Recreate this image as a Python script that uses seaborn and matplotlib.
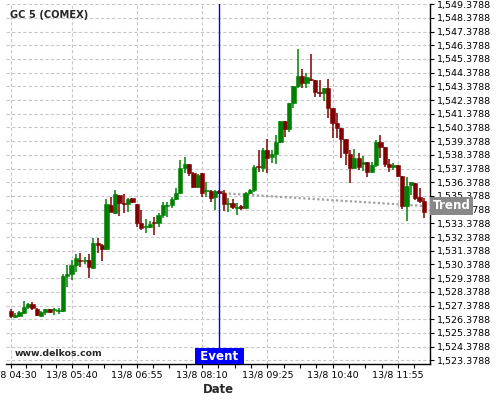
"""
GC 5 (COMEX) five-minute candles on 13/8 with the event marker and trend line.
"""

import numpy as np
import pandas as pd
import matplotlib

matplotlib.use("Agg")
import matplotlib.pyplot as plt
import matplotlib.transforms as mtransforms
from matplotlib.ticker import FixedLocator, FuncFormatter
import seaborn as sns

# 5-minute bars, 13/8 04:30 -> 12:25 (index 0..95)
opens = [1526.98, 1526.54, 1526.61, 1526.83, 1527.25, 1527.49, 1527.13, 1526.61, 1526.91, 1527.13,
         1527.03, 1527.00, 1527.00, 1529.53, 1529.68, 1530.34, 1530.70, 1530.65, 1530.70, 1530.14,
         1531.97, 1531.80, 1531.51, 1534.72, 1534.15, 1535.45, 1534.84, 1534.79, 1535.21, 1534.79,
         1533.43, 1533.09, 1533.09, 1533.43, 1533.38, 1533.99, 1534.64, 1534.72, 1535.13, 1535.57,
         1537.44, 1537.71, 1537.07, 1536.05, 1537.07, 1535.74, 1535.74, 1535.32, 1535.74, 1535.61,
         1534.77, 1534.84, 1534.52, 1534.64, 1534.48, 1535.57, 1535.81, 1537.51, 1537.40, 1538.73,
         1538.20, 1538.44, 1539.34, 1540.87, 1540.26, 1542.18, 1543.40, 1544.13, 1543.64, 1543.89,
         1543.84, 1542.99, 1542.87, 1543.28, 1541.83, 1540.68, 1540.37, 1539.51, 1538.44, 1537.44,
         1538.12, 1537.69, 1537.83, 1537.15, 1537.64, 1539.34, 1538.97, 1537.71, 1537.47, 1537.64,
         1536.83, 1534.66, 1536.18, 1536.34, 1535.28, 1535.01]
highs = [1527.10, 1526.83, 1526.98, 1527.71, 1527.59, 1527.64, 1527.20, 1526.98, 1527.13, 1527.13,
         1527.18, 1527.18, 1529.68, 1530.34, 1530.70, 1531.14, 1531.21, 1530.94, 1531.14, 1532.33,
         1532.33, 1531.87, 1535.15, 1535.30, 1535.81, 1535.45, 1535.52, 1535.23, 1535.23, 1534.79,
         1534.35, 1533.67, 1533.55, 1533.86, 1534.13, 1534.96, 1534.96, 1535.32, 1535.93, 1538.00,
         1538.24, 1537.71, 1537.13, 1536.98, 1537.07, 1536.37, 1535.81, 1535.81, 1535.81, 1535.81,
         1535.25, 1535.15, 1534.88, 1534.72, 1535.67, 1535.88, 1537.64, 1538.73, 1538.85, 1539.51,
         1538.73, 1539.83, 1540.87, 1540.87, 1542.18, 1543.40, 1546.08, 1544.62, 1544.37, 1545.74,
         1543.84, 1543.84, 1543.28, 1543.89, 1541.83, 1541.43, 1540.37, 1539.51, 1538.73, 1538.78,
         1538.49, 1538.29, 1537.83, 1537.88, 1539.46, 1539.83, 1538.97, 1538.05, 1537.80, 1537.64,
         1536.83, 1536.78, 1536.42, 1536.34, 1535.93, 1535.21]
lows = [1526.49, 1526.47, 1526.56, 1526.76, 1527.10, 1527.05, 1526.61, 1526.54, 1526.67, 1526.81,
        1526.67, 1526.76, 1526.93, 1528.73, 1529.24, 1529.83, 1530.19, 1530.39, 1529.39, 1530.02,
        1531.21, 1530.63, 1531.43, 1534.17, 1534.06, 1533.94, 1534.13, 1534.23, 1534.86, 1533.13,
        1532.89, 1532.65, 1533.04, 1532.53, 1533.11, 1533.75, 1533.86, 1534.48, 1535.08, 1535.52,
        1537.03, 1536.86, 1535.96, 1535.96, 1535.32, 1535.32, 1534.96, 1534.35, 1535.52, 1534.30,
        1534.23, 1534.40, 1533.99, 1534.35, 1534.42, 1535.52, 1535.69, 1537.10, 1537.15, 1537.03,
        1537.76, 1537.69, 1539.22, 1539.68, 1540.07, 1541.78, 1543.24, 1543.26, 1543.24, 1543.79,
        1542.62, 1542.62, 1542.31, 1541.05, 1539.64, 1539.61, 1538.18, 1537.64, 1536.30, 1537.32,
        1537.27, 1537.20, 1536.78, 1537.03, 1537.51, 1538.12, 1537.51, 1537.15, 1537.27, 1536.78,
        1534.40, 1533.57, 1535.45, 1535.08, 1534.88, 1533.79]
closes = [1526.61, 1526.67, 1526.91, 1527.27, 1527.49, 1527.18, 1526.71, 1526.91, 1527.13, 1526.91,
          1527.07, 1527.07, 1529.53, 1529.68, 1530.34, 1530.85, 1530.65, 1530.70, 1530.21, 1531.97,
          1531.80, 1531.48, 1534.79, 1534.23, 1535.52, 1534.84, 1534.77, 1535.13, 1534.96, 1533.43,
          1533.06, 1533.16, 1533.33, 1533.38, 1533.99, 1534.72, 1534.72, 1535.13, 1535.61, 1537.44,
          1537.71, 1537.03, 1536.05, 1536.91, 1535.61, 1535.81, 1535.25, 1535.74, 1535.57, 1534.77,
          1534.84, 1534.55, 1534.59, 1534.48, 1535.57, 1535.81, 1537.51, 1537.47, 1538.73, 1538.17,
          1538.42, 1539.34, 1540.87, 1540.26, 1542.18, 1543.40, 1544.13, 1543.64, 1544.04, 1543.84,
          1542.99, 1542.87, 1543.28, 1541.83, 1540.68, 1540.36, 1539.51, 1538.51, 1537.44, 1538.12,
          1537.51, 1537.83, 1537.15, 1537.64, 1539.34, 1538.97, 1537.71, 1537.47, 1537.64, 1536.83,
          1534.66, 1536.10, 1536.42, 1535.25, 1535.01, 1534.23]

# x axis labels (bar index -> time)
tick_pos = [0, 14, 29, 44, 59, 74, 89]
tick_labels = ["13/8 04:30", "13/8 05:40", "13/8 06:55", "13/8 08:10",
               "13/8 09:25", "13/8 10:40", "13/8 11:55"]

# event and trend line
event_idx = 48
trend_idx = [48, 95]
trend_vals = [1535.59, 1534.65]

UP = "#008000"
DOWN = "#800000"


def create_candle_chart():
    sns.set_style("white")
    plt.rcParams["font.family"] = ["DejaVu Sans"]

    df = pd.DataFrame({"open": opens, "high": highs, "low": lows, "close": closes})
    df["idx"] = np.arange(len(df))
    df["color"] = np.where(df["close"] >= df["open"], UP, DOWN)
    df["bottom"] = df[["open", "close"]].min(axis=1)
    df["height"] = (df["close"] - df["open"]).abs().clip(lower=0.07)

    fig = plt.figure(figsize=(5, 4), dpi=100)
    ax = fig.add_axes([0.012, 0.09, 0.848, 0.9])

    # trend line (behind the candles)
    trend_df = pd.DataFrame({"idx": trend_idx, "val": trend_vals})
    sns.lineplot(data=trend_df, x="idx", y="val", ax=ax, color="#a0a0a0",
                 linewidth=1.6, zorder=2)
    tl = ax.lines[-1]
    tl.set_dashes((1.0, 1.1))
    tl.set_dash_capstyle("butt")

    # wicks + bodies
    ax.vlines(df["idx"], df["low"], df["high"], colors=df["color"], linewidth=1.1, zorder=3)
    ax.bar(df["idx"], df["height"], bottom=df["bottom"], width=0.98,
           color=df["color"], edgecolor=df["color"], linewidth=0.4, zorder=4)

    # event line
    ax.axvline(event_idx, color="#0000ff", linewidth=1.0, zorder=6)

    ax.set_xlim(-1.08, 96.4)
    ax.set_ylim(1523.11, 1549.39)

    # axes / ticks
    for side in ["left", "top"]:
        ax.spines[side].set_visible(False)
    for side in ["right", "bottom"]:
        ax.spines[side].set_visible(True)
        ax.spines[side].set_color("black")
        ax.spines[side].set_linewidth(1.0)

    ax.yaxis.tick_right()
    yt = np.arange(1523.3788, 1549.5, 1.0)
    ax.yaxis.set_major_locator(FixedLocator(yt))
    ax.yaxis.set_major_formatter(FuncFormatter(lambda v, p: f"{v:,.4f}"))

    ax.set_xticks(tick_pos)
    ax.set_xticklabels(tick_labels)
    minor = []
    for a, b in zip(tick_pos[:-1], tick_pos[1:]):
        minor += [a + (b - a) * k / 4 for k in (1, 2, 3)]
    minor.append(tick_pos[-1] + 3.75)
    ax.xaxis.set_minor_locator(FixedLocator(minor))

    ax.tick_params(axis="both", which="major", labelsize=6.8, length=3, width=0.8,
                   color="black", labelcolor="black", pad=2)
    ax.tick_params(axis="x", which="minor", length=3, width=0.8, color="black")
    ax.tick_params(axis="y", which="major", right=True, left=False)
    ax.tick_params(axis="x", which="both", bottom=True)

    ax.grid(True, which="major", color="#c8c8c8", linestyle=(0, (3, 2)), linewidth=0.8)
    ax.set_axisbelow(True)

    ax.set_xlabel("Date", fontsize=8.4, fontweight="bold", labelpad=2)

    # texts
    ax.text(0.0094, 0.969, "GC 5 (COMEX)", transform=ax.transAxes, fontsize=7.1,
            fontweight="bold", ha="left", va="center")
    ax.text(0.021, 0.028, "www.delkos.com", transform=ax.transAxes, fontsize=6.7,
            fontweight="bold", ha="left", va="center")

    tr_event = mtransforms.blended_transform_factory(ax.transData, ax.transAxes)
    ax.text(event_idx, 0.004, " Event ", transform=tr_event, ha="center", va="bottom",
            color="white", fontsize=8.6, fontweight="bold", zorder=7,
            bbox=dict(boxstyle="square,pad=0.1", facecolor="#0000ff", edgecolor="none"))

    tr_trend = mtransforms.blended_transform_factory(ax.transAxes, ax.transData)
    ax.text(1.006, trend_vals[-1], "Trend", transform=tr_trend, ha="left", va="center",
            color="white", fontsize=8.6, fontweight="bold", zorder=7, clip_on=False,
            bbox=dict(boxstyle="square,pad=0.2", facecolor="#888888", edgecolor="none"))

    return fig


if __name__ == "__main__":
    fig = create_candle_chart()
    fig.savefig("out.png", dpi=100, facecolor="white")
    plt.close(fig)
